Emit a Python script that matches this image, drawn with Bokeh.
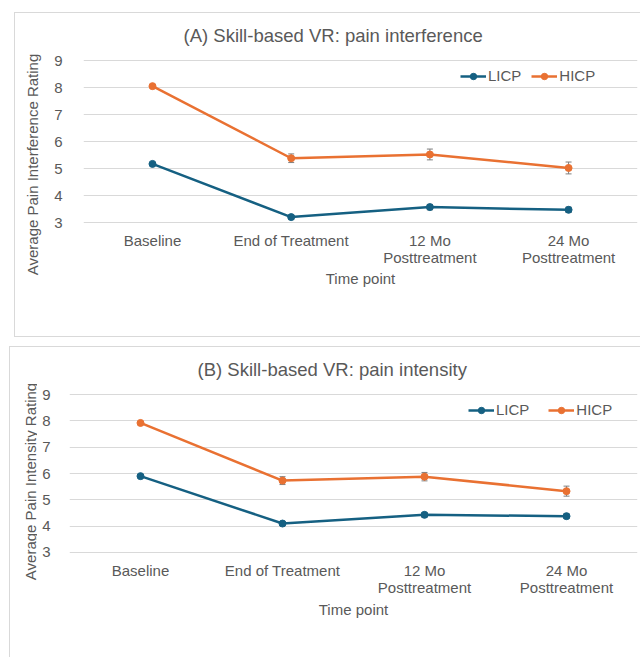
import math
from bokeh.plotting import figure
from bokeh.models import (ColumnDataSource, FixedTicker, Legend, LegendItem,
                          Whisker, TeeHead, Range1d)
from bokeh.layouts import column, row
from bokeh.core.properties import value
from bokeh.embed import file_html
from bokeh.resources import INLINE

# ---------------- data ----------------
time_points = ["Baseline", "End of Treatment", "12 Mo\nPosttreatment", "24 Mo\nPosttreatment"]
y_ticks = [3, 4, 5, 6, 7, 8, 9]

# (A) pain interference
a_licp = [5.17, 3.20, 3.57, 3.47]
a_licp_err = [0.04, 0.07, 0.10, 0.10]
a_hicp = [8.05, 5.38, 5.52, 5.02]
a_hicp_err = [0.04, 0.16, 0.20, 0.22]

# (B) pain intensity
b_licp = [5.90, 4.10, 4.43, 4.38]
b_licp_err = [0.04, 0.07, 0.09, 0.09]
b_hicp = [7.92, 5.73, 5.88, 5.33]
b_hicp_err = [0.04, 0.15, 0.16, 0.19]

series_names = ["LICP", "HICP"]

# ---------------- style ----------------
FONT = "Liberation Sans"
TEXT = "#595959"
BLUE = "#156082"
ORANGE = "#E97132"
GRID = "#D9D9D9"
ERR = "#7F7F7F"
BOX = "1px solid #D9D9D9"


def ylabel_strip(text, g):
    """Narrow strip holding the rotated y-axis title."""
    w, h = g["lw"], g["h"]
    s = figure(width=w, height=h, output_backend="svg", toolbar_location=None,
               x_range=Range1d(0, w), y_range=Range1d(0, h),
               x_axis_type=None, y_axis_type=None, frame_align=False,
               min_border_left=0, min_border_right=0, min_border_top=0, min_border_bottom=0)
    s.outline_line_color = None
    s.background_fill_color = "white"
    s.border_fill_color = "white"
    s.grid.visible = False
    s.text(x=[g["ylab"][0]], y=[g["ylab"][1]], text=[text], angle=math.pi / 2,
           text_align="center", text_baseline="middle",
           text_font=value(FONT), text_font_size=value("15px"), text_color=TEXT)
    return s


def make_panel(title, ylabel, licp, licp_err, hicp, hicp_err, g):
    p = figure(width=g["w"], height=g["h"], output_backend="svg", toolbar_location=None,
               x_range=Range1d(*g["xr"]), y_range=Range1d(*g["yr"]), frame_align=False,
               min_border_left=g["bl"], min_border_right=3,
               min_border_top=g["bt"], min_border_bottom=g["bb"])
    p.outline_line_color = None
    p.background_fill_color = "white"
    p.border_fill_color = "white"

    xs = list(range(len(time_points)))
    renderers = []
    for vals, errs, col in ((licp, licp_err, BLUE), (hicp, hicp_err, ORANGE)):
        src = ColumnDataSource(dict(x=xs, y=vals,
                                    upper=[v + e for v, e in zip(vals, errs)],
                                    lower=[v - e for v, e in zip(vals, errs)]))
        ln = p.line("x", "y", source=src, line_color=col, line_width=2.5)
        sc = p.scatter("x", "y", source=src, size=7, fill_color=col, line_color=col)
        wh = Whisker(base="x", upper="upper", lower="lower", source=src,
                     line_color=ERR, line_width=1,
                     upper_head=TeeHead(size=6, line_color=ERR, line_width=1),
                     lower_head=TeeHead(size=6, line_color=ERR, line_width=1))
        p.add_layout(wh)
        renderers.append([ln, sc])

    # axes
    p.xaxis.ticker = FixedTicker(ticks=xs)
    p.xaxis.major_label_overrides = {i: t for i, t in enumerate(time_points)}
    p.yaxis.ticker = FixedTicker(ticks=y_ticks)
    for ax in (p.xaxis, p.yaxis):
        ax.axis_line_color = None
        ax.major_tick_line_color = None
        ax.minor_tick_line_color = None
        ax.major_label_text_font = FONT
        ax.major_label_text_font_size = "15px"
        ax.major_label_text_color = TEXT
    p.xaxis.major_label_text_line_height = 1.0
    p.xaxis.major_label_standoff = g["xso"]
    p.yaxis.major_label_standoff = g["yso"]
    p.xaxis.axis_label = "Time point"
    p.xaxis.axis_label_standoff = g["xlso"]
    p.xaxis.axis_label_text_font = FONT
    p.xaxis.axis_label_text_font_size = "15px"
    p.xaxis.axis_label_text_font_style = "normal"
    p.xaxis.axis_label_text_color = TEXT
    p.xgrid.grid_line_color = None
    p.ygrid.grid_line_color = GRID
    p.ygrid.grid_line_width = 1

    # title
    p.title.text = title
    p.title.align = "left"
    p.title.vertical_align = "top"
    p.title.offset = g["toff"]
    p.title.standoff = g["tso"]
    p.title.text_font = FONT
    p.title.text_font_size = "18.5px"
    p.title.text_font_style = "normal"
    p.title.text_color = TEXT

    legend = Legend(items=[LegendItem(label=n, renderers=r) for n, r in zip(series_names, renderers)],
                    orientation="horizontal", location=g["leg"], padding=0, margin=0,
                    spacing=g["legsp"], glyph_width=26, glyph_height=16, label_standoff=2,
                    border_line_alpha=0, background_fill_alpha=0,
                    label_text_font=FONT, label_text_font_size="15px", label_text_color=TEXT)
    p.add_layout(legend)

    strip = ylabel_strip(ylabel, g)
    return row(strip, p, spacing=0, margin=g["margin"], styles=g["styles"])


geom_a = dict(lw=30, w=595, h=323, bl=38, bt=46, bb=113,
              xr=(-0.4975, 3.497), yr=(3 - 1 / 27, 9 + 1 / 27),
              margin=(12, 0, 0, 14),
              styles={"border-left": BOX, "border-top": BOX, "border-bottom": BOX},
              xso=2, yso=15, xlso=1, toff=100, tso=23, ylab=(17, 172),
              leg=(377, 139), legsp=10)
geom_b = dict(lw=27, w=603, h=310, bl=32, bt=46, bb=104,
              xr=(-0.5, 3.5), yr=(2.962, 9.038),
              margin=(9, 0, 0, 9),
              styles={"border-left": BOX, "border-top": BOX},
              xso=2, yso=13, xlso=2, toff=128, tso=23, ylab=(19.5, 176),
              leg=(399, 135), legsp=19)

panel_a = make_panel("(A) Skill-based VR: pain interference", "Average Pain Interference Rating",
                     a_licp, a_licp_err, a_hicp, a_hicp_err, geom_a)
panel_b = make_panel("(B) Skill-based VR: pain intensity", "Average Pain Intensity Rating",
                     b_licp, b_licp_err, b_hicp, b_hicp_err, geom_b)

layout = column(panel_a, panel_b, spacing=0)
open("out.html", "w").write(file_html(layout, INLINE))
